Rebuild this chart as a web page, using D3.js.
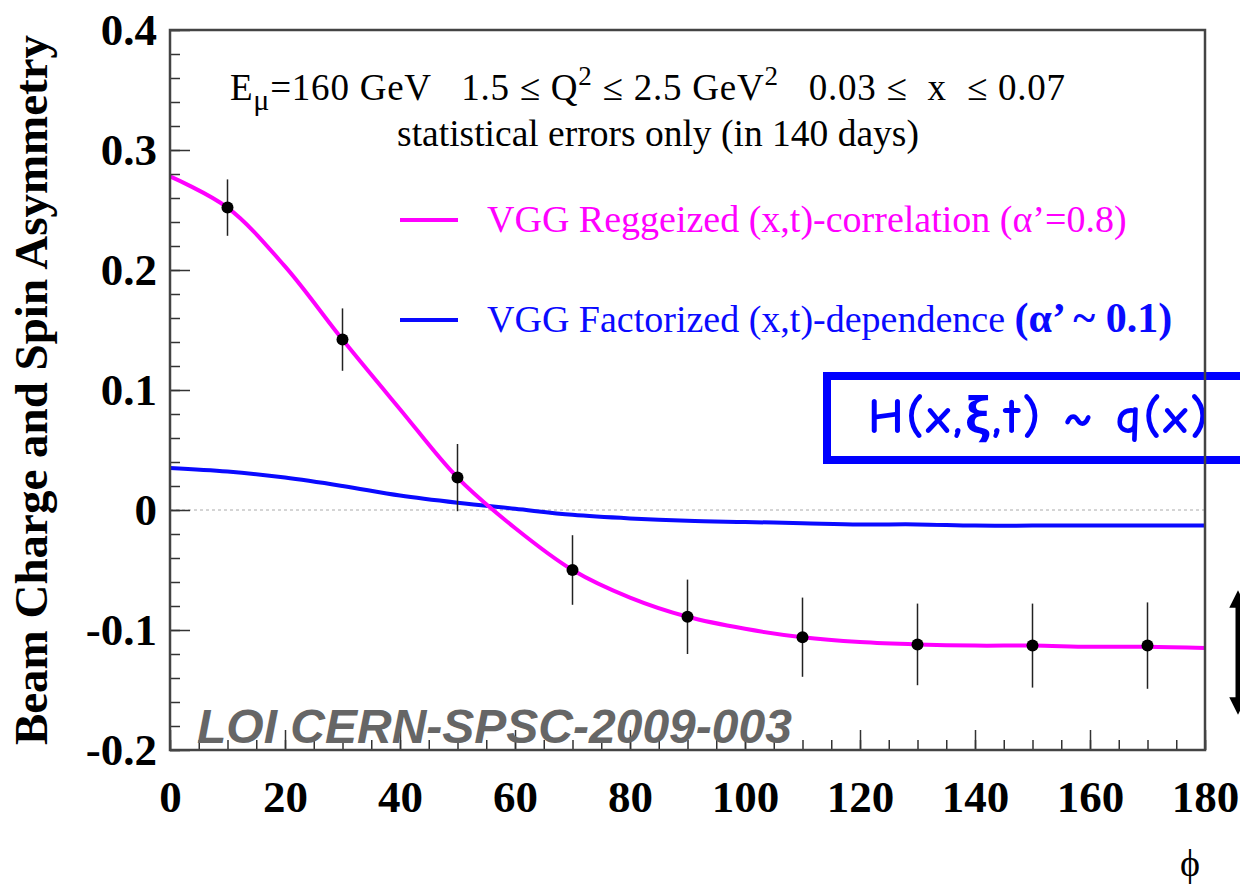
<!DOCTYPE html>
<html lang="en">
<head>
<meta charset="UTF-8">
<script src="https://d3js.org/d3.v7.min.js"></script>
<title>Beam Charge and Spin Asymmetry</title>
<style>
  body { margin: 0; background: #fff; overflow: hidden; }
  text { white-space: pre; }
</style>
</head>
<body>
<div id="chart"></div>
<script>
// phi bins (deg) and projected asymmetries with statistical errors
var phiBins = [10, 30, 50, 70, 90, 110, 130, 150, 170];
var asym    = [0.252, 0.142, 0.027, -0.050, -0.089, -0.106, -0.112, -0.113, -0.113];
var asymErr = [0.0235, 0.026, 0.028, 0.029, 0.031, 0.033, 0.034, 0.035, 0.036];

// model curves, sampled every 10 deg
var curvePhi   = [0, 10, 20, 30, 40, 50, 60, 70, 80, 90, 100, 110, 120, 130, 140, 150, 160, 170, 180];
var reggeized  = [0.278, 0.252, 0.203, 0.142, 0.084, 0.027, -0.015, -0.050, -0.073, -0.089, -0.099, -0.106, -0.110, -0.112, -0.113, -0.113, -0.114, -0.114, -0.115];
var factorized = [0.035, 0.032, 0.027, 0.020, 0.012, 0.006, 0.001, -0.004, -0.007, -0.009, -0.010, -0.011, -0.012, -0.012, -0.013, -0.013, -0.013, -0.013, -0.013];

var xTicks = [0, 20, 40, 60, 80, 100, 120, 140, 160, 180];
var yTicks = [-0.2, -0.1, 0, 0.1, 0.2, 0.3, 0.4];

var W = 1240, H = 887;
var margin = {top: 30, right: 35, bottom: 137, left: 170},
  width = W - margin.left - margin.right,
  height = H - margin.top - margin.bottom;

var serif = "'Liberation Serif', 'Times New Roman', serif";

var svg = d3.select("#chart")
  .append("svg")
    .attr("width", W)
    .attr("height", H);

var g = svg.append("g")
  .attr("transform", "translate(" + margin.left + "," + margin.top + ")");

var x = d3.scaleLinear().domain([0, 180]).range([0, width]);
var y = d3.scaleLinear().domain([-0.2, 0.4]).range([height, 0]);

// zero line
g.append("line")
  .attr("x1", 0).attr("x2", width)
  .attr("y1", y(0)).attr("y2", y(0))
  .style("stroke", "#aaa")
  .style("stroke-width", 1)
  .style("stroke-dasharray", "3,3");

// H box (drawn under the frame, runs off the page)
g.append("rect")
  .attr("x", 827 - margin.left)
  .attr("y", 376 - margin.top)
  .attr("width", 500)
  .attr("height", 84)
  .style("fill", "white")
  .style("stroke", "#0000ff")
  .style("stroke-width", 8);
g.append("text")
  .attr("x", 868 - margin.left)
  .attr("y", 433 - margin.top)
  .attr("textLength", 340)
  .attr("lengthAdjust", "spacing")
  .text("H(x,ξ,t) ~ q(x)")
  .style("font-family", "'Comic Sans MS', 'Comic Neue', 'Open Sans', sans-serif")
  .style("font-weight", "bold")
  .style("font-size", "50px")
  .style("fill", "#0000ff");

// curves
var line = d3.line()
  .x(function(d) { return x(d[0]); })
  .y(function(d) { return y(d[1]); })
  .curve(d3.curveCatmullRom.alpha(0.5));

g.append("path")
  .datum(curvePhi.map(function(p, i) { return [p, factorized[i]]; }))
  .attr("d", line)
  .style("fill", "none")
  .style("stroke", "#0a0aff")
  .style("stroke-width", 4);

g.append("path")
  .datum(curvePhi.map(function(p, i) { return [p, reggeized[i]]; }))
  .attr("d", line)
  .style("fill", "none")
  .style("stroke", "#ff00ff")
  .style("stroke-width", 4);

// data points with error bars
var pts = phiBins.map(function(p, i) { return {phi: p, v: asym[i], e: asymErr[i]}; });

g.selectAll(".err")
  .data(pts)
  .enter()
  .append("line")
    .attr("x1", function(d) { return x(d.phi); })
    .attr("x2", function(d) { return x(d.phi); })
    .attr("y1", function(d) { return y(d.v - d.e); })
    .attr("y2", function(d) { return y(d.v + d.e); })
    .style("stroke", "#222")
    .style("stroke-width", 1.5);

g.selectAll(".pt")
  .data(pts)
  .enter()
  .append("circle")
    .attr("cx", function(d) { return x(d.phi); })
    .attr("cy", function(d) { return y(d.v); })
    .attr("r", 6)
    .style("fill", "black");

// axes, ticks pointing inward (ROOT style)
var fmt = function(d) { return d === 0 ? "0" : d.toFixed(1); };  // plain hyphen minus

var yMinor = d3.range(-0.2, 0.4001, 0.02).map(function(d) { return Math.round(d * 100) / 100; });
var xMinor = d3.range(0, 181, 5);

g.append("g")
  .call(d3.axisLeft(y).tickValues(yMinor).tickSize(-10).tickFormat(""))
  .call(function(a) { a.select(".domain").remove(); });
g.append("g")
  .attr("transform", "translate(0," + height + ")")
  .call(d3.axisBottom(x).tickValues(xMinor).tickSize(-10).tickFormat(""))
  .call(function(a) { a.select(".domain").remove(); });

var yAxis = g.append("g")
  .call(d3.axisLeft(y).tickValues(yTicks).tickSize(-20).tickPadding(13).tickFormat(fmt));
var xAxis = g.append("g")
  .attr("transform", "translate(0," + height + ")")
  .call(d3.axisBottom(x).tickValues(xTicks).tickSize(-20).tickPadding(30).tickFormat(d3.format("d")));

[yAxis, xAxis].forEach(function(a) {
  a.selectAll(".domain").remove();
  a.selectAll("text")
    .style("font-family", serif)
    .style("font-weight", "bold")
    .style("font-size", "45px")
    .style("fill", "black");
});
g.selectAll(".tick line").style("stroke", "#333").style("stroke-width", 1.5);

// frame
g.append("rect")
  .attr("width", width)
  .attr("height", height)
  .style("fill", "none")
  .style("stroke", "#444")
  .style("stroke-width", 2.5);

// header text
var h1 = g.append("text")
  .attr("x", 230 - margin.left)
  .attr("y", 100 - margin.top)
  .attr("textLength", 835)
  .attr("lengthAdjust", "spacing")
  .style("font-family", serif)
  .style("font-size", "37px");
h1.append("tspan").text("E");
h1.append("tspan").attr("dy", 10).style("font-size", "30px").text("μ");
h1.append("tspan").attr("dy", -10).text("=160 GeV   1.5 ≤ Q");
h1.append("tspan").attr("dy", -15).style("font-size", "27px").text("2");
h1.append("tspan").attr("dy", 15).text(" ≤ 2.5 GeV");
h1.append("tspan").attr("dy", -15).style("font-size", "27px").text("2");
h1.append("tspan").attr("dy", 15).text("   0.03 ≤  x  ≤ 0.07");

g.append("text")
  .attr("x", 658 - margin.left)
  .attr("y", 146 - margin.top)
  .attr("text-anchor", "middle")
  .style("font-family", serif)
  .style("font-size", "37.5px")
  .text("statistical errors only (in 140 days)");

// legend
var legend = [
  {label: "VGG Reggeized (x,t)-correlation (α’=0.8)", color: "#ff00ff", y: 220, extra: ""},
  {label: "VGG Factorized (x,t)-dependence ", color: "#0a0aff", y: 320, extra: "(α’ ~ 0.1)"}
];
legend.forEach(function(l) {
  g.append("line")
    .attr("x1", 400 - margin.left).attr("x2", 458 - margin.left)
    .attr("y1", l.y - margin.top).attr("y2", l.y - margin.top)
    .style("stroke", l.color)
    .style("stroke-width", 4);
  var t = g.append("text")
    .attr("x", 487 - margin.left)
    .attr("y", l.y + 12 - margin.top)
    .style("font-family", serif)
    .style("font-size", "38px")
    .style("fill", l.color);
  t.append("tspan").text(l.label);
  if (l.extra) {
    t.append("tspan")
      .style("font-weight", "bold")
      .style("font-size", "42px")
      .text(l.extra);
  }
});

// reference tag
g.append("text")
  .attr("x", 197 - margin.left)
  .attr("y", 743 - margin.top)
  .style("font-family", "'Liberation Sans', Arial, sans-serif")
  .style("font-weight", "bold")
  .style("font-style", "italic")
  .style("font-size", "48px")
  .style("fill", "#666")
  .text("LOI CERN-SPSC-2009-003");

// axis titles
svg.append("text")
  .attr("transform", "translate(47,390) rotate(-90)")
  .attr("text-anchor", "middle")
  .style("font-family", serif)
  .style("font-weight", "bold")
  .style("font-size", "47px")
  .text("Beam Charge and Spin Asymmetry");

svg.append("text")
  .attr("x", 1190)
  .attr("y", 876)
  .attr("text-anchor", "middle")
  .style("font-family", serif)
  .style("font-size", "38px")
  .text("ϕ");

// double arrow at the right edge
svg.append("defs").append("marker")
  .attr("id", "head")
  .attr("viewBox", "0 0 10 10")
  .attr("refX", 5).attr("refY", 5)
  .attr("markerWidth", 3.5).attr("markerHeight", 4)
  .attr("orient", "auto-start-reverse")
  .append("path")
    .attr("d", "M0,0 L10,5 L0,10 Z")
    .style("fill", "black");
svg.append("line")
  .attr("x1", 1238).attr("x2", 1238)
  .attr("y1", 599).attr("y2", 706)
  .style("stroke", "black")
  .style("stroke-width", 5)
  .attr("marker-start", "url(#head)")
  .attr("marker-end", "url(#head)");
</script>
</body>
</html>
